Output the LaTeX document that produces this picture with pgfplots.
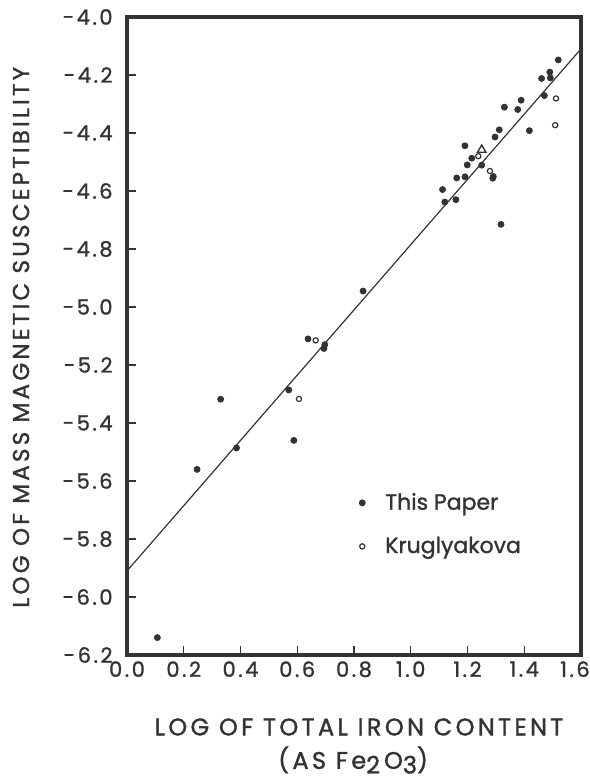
\documentclass[border=0pt]{standalone}
\usepackage{fontspec}
\setmainfont[FakeBold=1.2]{Poppins}
\newfontfamily\lblfont[LetterSpace=14,FakeBold=1.4]{Poppins}
\newfontfamily\tickfont[LetterSpace=12,FakeBold=1.2]{Poppins}
\usepackage{pgfplots}
\pgfplotsset{compat=1.18}
\usetikzlibrary{calc}
\definecolor{ink}{HTML}{333333}

\begin{document}
\begin{tikzpicture}
\begin{axis}[
  scale only axis, width=227pt, height=319pt,
  xmin=0, xmax=1.6, ymin=-6.2, ymax=-4.0,
  xtick={0,0.2,0.4,0.6,0.8,1.0,1.2,1.4,1.6},
  xticklabels={0.0,0.2,0.4,0.6,0.8,1.0,1.2,1.4,\hspace*{-6pt}1.6},
  ytick={-6.2,-6.0,-5.8,-5.6,-5.4,-5.2,-5.0,-4.8,-4.6,-4.4,-4.2,-4.0},
  yticklabels={-6.2,-6.0,-5.8,-5.6,-5.4,-5.2,-5.0,-4.8,-4.6,-4.4,-4.2,-4.0},
  tick align=inside, tick pos=left, major tick length=4.5pt,
  tick style={line width=0.7pt, ink},
  axis line style={line width=2pt, ink},
  xticklabel style={font=\tickfont\fontsize{10.5}{11}\selectfont, text=ink, inner sep=0pt, yshift=-3pt},
  yticklabel style={font=\tickfont\fontsize{10.5}{11}\selectfont, text=ink, inner sep=0pt, xshift=-7pt},
  legend style={at={(axis cs:0.796,-5.75)}, anchor=west, draw=none, fill=none,
    font=\fontsize{11}{13}\selectfont, text=ink, row sep=8pt, cells={anchor=west}},
  legend cell align=left,
  clip=false,
]
\addplot[only marks, mark=*, mark size=1.5pt, ink] coordinates {
  (0.107,-6.14) (0.247,-5.56) (0.330,-5.318) (0.386,-5.486) (0.570,-5.286)
  (0.588,-5.46) (0.638,-5.11) (0.697,-5.13) (0.694,-5.143) (0.832,-4.945)
  (1.112,-4.595) (1.120,-4.638) (1.159,-4.630) (1.162,-4.555) (1.191,-4.551)
  (1.191,-4.444) (1.199,-4.510) (1.215,-4.487) (1.250,-4.511) (1.291,-4.550)
  (1.289,-4.556) (1.297,-4.414) (1.312,-4.389) (1.318,-4.715) (1.330,-4.311)
  (1.377,-4.319) (1.389,-4.287) (1.418,-4.392) (1.461,-4.212) (1.471,-4.271)
  (1.490,-4.190) (1.492,-4.210) (1.520,-4.148)
};
\addlegendentry{\hspace{8pt}This Paper}
\addplot[only marks, mark=o, mark size=1.3pt, line width=0.6pt, ink] coordinates {
  (0.665,-5.115) (0.606,-5.317) (1.238,-4.480) (1.279,-4.531)
  (1.512,-4.281) (1.509,-4.373)
};
\addlegendentry{\hspace{8pt}Kruglyakova}
\addplot[only marks, mark=triangle, mark size=2.4pt, line width=0.7pt, ink, forget plot] coordinates {
  (1.250,-4.458)
};
\addplot[ink, line width=0.6pt, forget plot] coordinates {(0,-5.91) (1.6,-4.11)};
\end{axis}
\node[rotate=90, font=\lblfont\fontsize{11.5}{12}\selectfont, text=ink] at
  ($(current axis.south west)!0.498!(current axis.north west)+(-53pt,0)$)
  {LOG OF MASS MAGNETIC SUSCEPTIBILITY};
\node[font=\lblfont\fontsize{12}{12}\selectfont, text=ink] at
  ($(current axis.south west)!0.511!(current axis.south east)+(0,-36pt)$)
  {LOG OF TOTAL IRON CONTENT};
\node[font=\lblfont\fontsize{12}{12}\selectfont, text=ink] at
  ($(current axis.south west)!0.498!(current axis.south east)+(0,-52.5pt)$)
  {(AS Fe\raisebox{-0.35ex}{2}\,O\raisebox{-0.35ex}{3})};
\pgfresetboundingbox
\path ($(current axis.south west)+(-63.5pt,-62.5pt)$) rectangle ($(current axis.north east)+(4pt,8.5pt)$);
\end{tikzpicture}
\end{document}
